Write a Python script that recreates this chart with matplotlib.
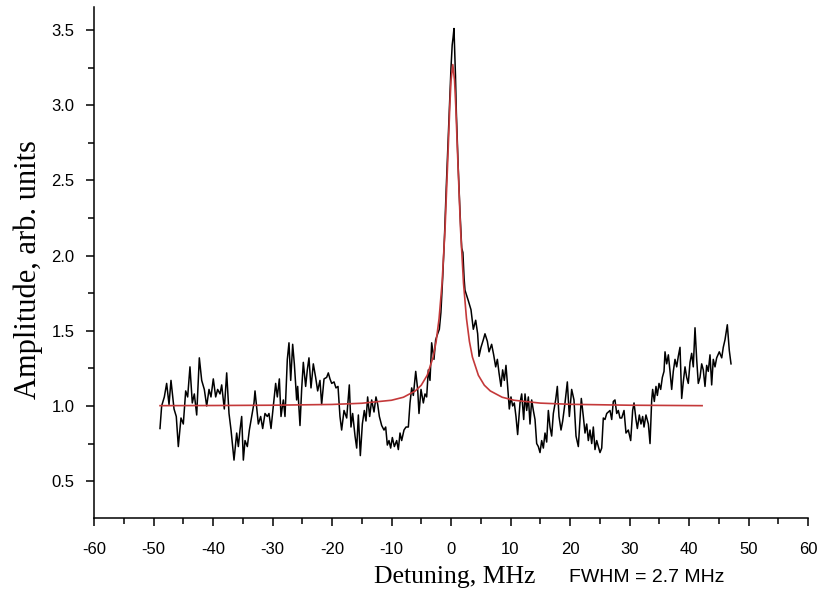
import matplotlib
matplotlib.use("Agg")
import matplotlib.pyplot as plt
from matplotlib.ticker import MultipleLocator

# Measured signal (detuning in MHz, amplitude in arb. units)
signal_x = [
    -48.91, -48.63, -48.18, -47.79, -47.39, -47.06, -46.55, -46.17, -45.83, -45.38,
    -44.99, -44.59, -44.26, -43.87, -43.48, -43.14, -42.74, -42.30, -41.90, -41.46,
    -41.06, -40.67, -40.34, -39.95, -39.55, -39.22, -38.82, -38.54, -38.10, -37.70,
    -37.31, -36.97, -36.69, -36.47, -36.02, -35.74, -35.46, -35.18, -34.90, -34.62,
    -34.23, -33.89, -33.50, -33.11,
    -32.94, -32.38, -31.99, -31.65, -31.26, -30.87, -30.59, -30.25, -29.86, -29.47,
    -29.19, -28.85, -28.57, -28.18, -27.90, -27.51, -27.23, -26.94, -26.61, -26.33,
    -25.94, -25.77, -25.38, -25.10, -24.82, -24.43, -24.15, -23.87, -23.53, -23.14,
    -22.75, -22.41, -22.02, -21.74, -21.34, -20.90, -20.62, -20.34, -20.05, -19.66,
    -19.33, -18.99, -18.66, -18.38, -17.98, -17.53, -17.09,
    -16.81, -16.53, -16.13, -15.85, -15.57, -15.24, -14.90, -14.57, -14.29, -14.01,
    -13.67, -13.33, -12.94, -12.61, -12.32, -12.04, -11.65, -11.26, -10.98, -10.70,
    -10.42, -10.14, -9.86, -9.52, -9.13, -8.85, -8.57, -8.29, -7.90, -7.56,
    -7.17, -6.89, -6.61, -6.33, -5.93, -5.60, -5.38, -5.04, -4.65, -4.37,
    -4.09, -3.81, -3.53, -3.25, -2.86, -2.58, -2.24, -1.96,
    -1.70, -1.40, -1.10, -0.80, -0.50, -0.20, 0.00, 0.20, 0.35, 0.50,
    0.60, 0.75, 0.90, 1.20, 1.50, 1.80, 2.00, 2.20,
    2.35, 2.91, 3.36, 3.75, 4.15, 4.48, 4.71, 5.04, 5.43, 5.71,
    6.11, 6.39, 6.83, 7.17, 7.51, 7.79, 8.07, 8.40, 8.68, 8.96,
    9.24, 9.52, 9.80, 10.08, 10.36, 10.64, 10.92, 11.20, 11.60, 11.88,
    12.22, 12.44, 12.72, 13.00, 13.28, 13.56, 13.84, 14.12, 14.40, 14.68,
    14.96, 15.24, 15.52, 15.80, 16.08, 16.36, 16.64, 16.92, 17.20, 17.59,
    17.87, 18.15, 18.49, 18.77,
    19.16, 19.55, 19.89, 20.28, 20.67, 21.01, 21.40, 21.68, 21.90, 22.24,
    22.52, 22.81, 23.08, 23.36, 23.65, 23.92, 24.20, 24.49, 24.76, 25.04,
    25.33, 25.60, 25.88, 26.17, 26.44, 26.72, 27.01, 27.28, 27.56, 27.85,
    28.12, 28.40,
    28.69, 29.08, 29.41, 29.80, 30.20, 30.53, 30.76, 31.09, 31.32, 31.65,
    31.93, 32.21, 32.44, 32.77, 33.17, 33.45, 33.73, 33.89, 34.17, 34.45,
    34.68, 34.96, 35.24, 35.52, 35.80, 35.97, 36.25, 36.53, 36.81, 37.09,
    37.36, 37.65, 37.93, 38.20, 38.49, 38.77, 39.04, 39.33, 39.61, 39.88,
    40.17, 40.45, 40.72, 41.01, 41.29, 41.56, 41.85, 42.13, 42.40, 42.69,
    42.97, 43.24, 43.53, 43.81, 44.08, 44.37, 44.65, 45.09, 45.50, 45.76,
    46.05, 46.44, 46.77, 47.06,
]
signal_y = [
    0.85, 1.00, 1.06, 1.15, 1.01, 1.17, 0.98, 0.93, 0.73, 0.92,
    0.88, 1.10, 1.06, 1.26, 1.02, 1.08, 0.94, 1.32, 1.17, 1.11,
    1.00, 1.11, 1.06, 1.18, 1.06, 1.11, 1.08, 1.14, 0.98, 1.22,
    0.95, 0.84, 0.73, 0.64, 0.82, 0.73, 0.84, 0.93, 0.64, 0.77,
    0.73, 0.84, 0.93, 1.02,
    1.10, 0.88, 0.93, 0.85, 0.95, 0.93, 0.95, 0.85, 1.00, 1.15,
    1.06, 1.18, 0.93, 1.04, 0.93, 1.31, 1.42, 1.17, 1.41, 1.28,
    1.04, 1.13, 0.87, 1.11, 1.29, 1.13, 1.24, 1.32, 1.12, 1.28,
    1.19, 1.10, 1.17, 1.01, 1.18, 1.19, 1.22, 1.18, 1.15, 1.16,
    1.12, 1.13, 0.93, 0.84, 0.97, 0.92, 1.14,
    0.86, 0.95, 0.80, 0.72, 0.94, 0.67, 0.88, 0.97, 0.90, 1.06,
    0.93, 1.04, 0.96, 1.06, 1.01, 0.93, 0.87, 0.84, 0.86, 0.74,
    0.77, 0.72, 0.79, 0.73, 0.77, 0.71, 0.82, 0.77, 0.84, 0.86,
    0.86, 1.02, 1.12, 1.07, 1.23, 1.11, 0.95, 1.11, 1.02, 1.08,
    1.06, 1.24, 1.17, 1.42, 1.31, 1.44, 1.48, 1.51,
    1.62, 1.85, 2.12, 2.45, 2.75, 3.05, 3.25, 3.40, 3.45, 3.51,
    3.38, 3.20, 2.95, 2.60, 2.30, 2.05, 2.02, 1.85,
    1.77, 1.70, 1.64, 1.51, 1.57, 1.48, 1.33, 1.39, 1.44, 1.48,
    1.43, 1.36, 1.41, 1.34, 1.26, 1.31, 1.22, 1.13, 1.24, 1.17,
    1.27, 1.13, 0.98, 1.06, 1.00, 1.02, 0.93, 0.81, 1.02, 1.08,
    0.91, 1.08, 0.97, 1.06, 0.88, 1.04, 0.97, 0.91, 0.75, 0.73,
    0.69, 0.77, 0.72, 0.82, 0.76, 0.97, 0.86, 0.80, 0.95, 1.04,
    1.13, 0.93, 0.84, 0.90,
    1.02, 1.16, 0.93, 1.11, 1.04, 0.80, 0.73, 0.91, 1.05, 0.93,
    0.82, 0.88, 0.77, 0.84, 0.75, 0.86, 0.71, 0.77, 0.73, 0.69,
    0.72, 0.92, 0.91, 0.95, 0.96, 0.97, 0.91, 1.03, 1.04, 0.95,
    0.97, 0.92,
    0.92, 0.97, 0.82, 0.84, 0.77, 0.97, 1.02, 0.91, 0.85, 0.94,
    0.88, 0.93, 0.86, 0.94, 0.88, 0.75, 1.04, 1.11, 1.03, 1.13,
    1.07, 1.15, 1.11, 1.19, 1.23, 1.36, 1.28, 1.34, 1.23, 1.11,
    1.23, 1.31, 1.26, 1.33, 1.39, 1.05, 1.16, 1.26, 1.19, 1.15,
    1.29, 1.35, 1.26, 1.52, 1.31, 1.15, 1.19, 1.28, 1.24, 1.13,
    1.27, 1.23, 1.34, 1.14, 1.31, 1.26, 1.32, 1.36, 1.32, 1.39,
    1.44, 1.54, 1.37, 1.28,
]

# Lorentzian fit curve
fit_x = [-48.9, -40, -30, -20, -15, -10, -8, -6, -5, -4,
         -3, -2.5, -2, -1.5, -1, -0.5, -0.2, 0.0, 0.3, 0.6,
         0.8, 1.1, 1.6, 2.1, 2.6, 3.1, 3.6, 4.6, 5.6, 6.6,
         8.6, 10.6, 15, 20, 30, 42.2]
fit_y = [1.002, 1.003, 1.005, 1.010, 1.018, 1.038, 1.058, 1.100, 1.138, 1.204,
         1.325, 1.428, 1.582, 1.817, 2.178, 2.680, 2.996, 3.163, 3.270, 3.163,
         2.996, 2.680, 2.178, 1.817, 1.582, 1.428, 1.325, 1.204, 1.138, 1.100,
         1.058, 1.038, 1.019, 1.011, 1.005, 1.002]

x_ticks = [-60, -50, -40, -30, -20, -10, 0, 10, 20, 30, 40, 50, 60]
y_ticks = [0.5, 1.0, 1.5, 2.0, 2.5, 3.0, 3.5]

fig = plt.figure(figsize=(8.24, 5.92), dpi=100)
ax = fig.add_axes([94/824, 74/592, (808-94)/824, (518-7)/592])

ax.plot(signal_x, signal_y, color='black', lw=1.1, zorder=2)
ax.plot(fit_x, fit_y, color='#c4393a', lw=1.2, zorder=3)

ax.set_xlim(-60, 60)
ax.set_ylim(0.255, 3.653)
ax.set_xticks(x_ticks)
ax.set_xticklabels([str(t) for t in x_ticks])
ax.set_yticks(y_ticks)
ax.set_yticklabels([f"{t:.1f}" for t in y_ticks])
ax.xaxis.set_minor_locator(MultipleLocator(5))
ax.yaxis.set_minor_locator(MultipleLocator(0.25))

for s in ['top', 'right']:
    ax.spines[s].set_visible(False)
for s in ['left', 'bottom']:
    ax.spines[s].set_linewidth(1.1)

ax.tick_params(axis='both', which='major', direction='out', length=6, width=1.1,
               labelsize=12)
ax.tick_params(axis='both', which='minor', direction='out', length=4, width=1.1)
ax.tick_params(axis='x', which='major', pad=11)
ax.tick_params(axis='y', which='major', pad=8)
for lab in ax.get_xticklabels() + ax.get_yticklabels():
    lab.set_family('Liberation Sans')

fig.text(455/824, 1 - 577/592, "Detuning, MHz", family='Liberation Serif',
         fontsize=18.5, ha='center', va='center')
fig.text(28/824, 1 - 270/592, "Amplitude, arb. units", family='Liberation Serif',
         fontsize=22, ha='center', va='center', rotation=90)
fig.text(647/824, 1 - 578/592, "FWHM = 2.7 MHz", family='Liberation Sans',
         fontsize=14, ha='center', va='center')

fig.savefig("out.png", dpi=100)
